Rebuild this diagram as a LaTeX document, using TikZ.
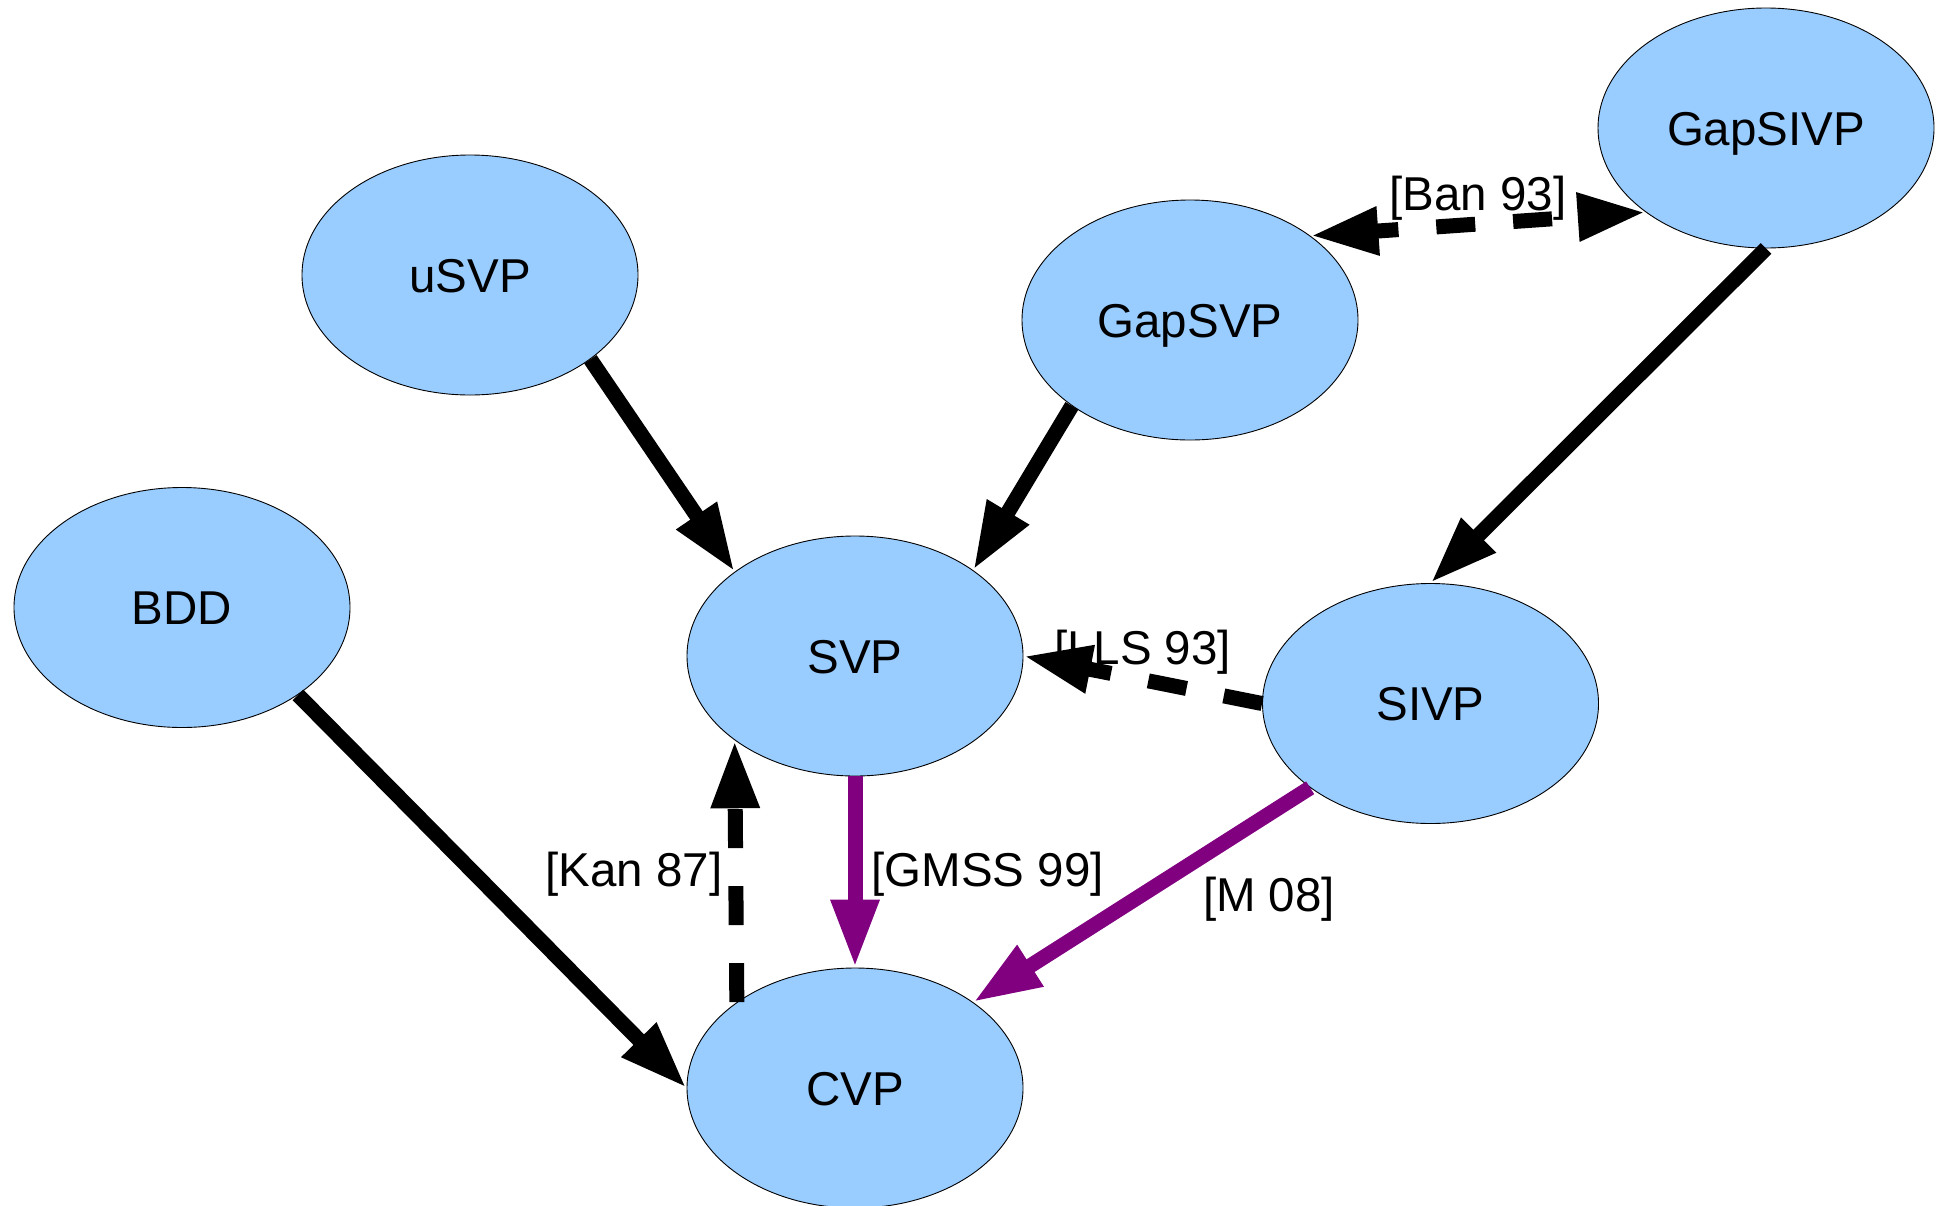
\documentclass[tikz,border=0pt]{standalone}
\usepackage{fontspec}
\setmainfont{Liberation Sans}
\usetikzlibrary{arrows.meta,shapes.geometric}

\definecolor{probblue}{HTML}{99CCFF}
\definecolor{reducepurple}{HTML}{800080}

\begin{document}
\begin{tikzpicture}[x=1pt,y=-1pt,
  prob/.style={ellipse, draw=black, line width=0.9pt, fill=probblue,
    minimum width=336pt, minimum height=240pt, inner sep=0pt,
    text height=34pt, text depth=0pt,
    font=\fontsize{47.5}{57}\selectfont},
  cite/.style={inner sep=0pt, font=\fontsize{47.5}{57}\selectfont},
  link/.style={line width=15pt, -{Triangle[length=68pt,width=45pt]}},
  dashlink/.style={link, dash pattern=on 39pt off 38pt},
  purplelink/.style={link, draw=reducepurple}
]
\useasboundingbox (0,0) rectangle (1942,1205);

% problems
\node[prob] (uSVP)    at (470,275)   {uSVP};
\node[prob] (GapSVP)  at (1190,320)  {GapSVP};
\node[prob] (GapSIVP) at (1766,128)  {GapSIVP};
\node[prob] (BDD)     at (182,607.5) {BDD};
\node[prob] (SVP)     at (855,656)   {SVP};
\node[prob] (SIVP)    at (1430.5,703.5) {SIVP};
\node[prob] (CVP)     at (855,1088)  {CVP};

% reference labels (drawn under the arrows)
\node[cite] (ban)  at (1478,198)  {[Ban 93]};
\node[cite] (lls)  at (1142.5,652.5) {[LLS 93]};
\node[cite] (gmss) at (987.5,874) {[GMSS 99]};
\node[cite] (kan)  at (634,874)   {[Kan 87]};
\node[cite] (m08)  at (1269,899)  {[M 08]};

% reductions
\draw[link] (uSVP.-35) -- (SVP.145);
\draw[link] (GapSVP.216) -- (SVP.36);
\draw[link] (GapSIVP.south) -- (SIVP.north);
\draw[link] (BDD.-37) -- (CVP.west);
\draw[dashlink, dash phase=15pt, {Triangle[length=68pt,width=45pt]}-{Triangle[length=68pt,width=45pt]}]
  (GapSVP.35) -- (GapSIVP.215);
\draw[dashlink] (SIVP.west) -- (SVP.east);
\draw[dashlink] (CVP.144) -- (SVP.215);
\draw[purplelink] (SVP.south) -- (CVP.north);
\draw[purplelink] (SIVP.215) -- (CVP.36);
\end{tikzpicture}
\end{document}
